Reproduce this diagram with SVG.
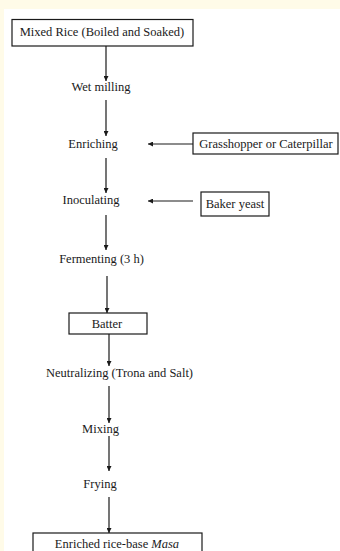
<svg xmlns="http://www.w3.org/2000/svg" width="340" height="551" viewBox="0 0 340 551">
<style>
text{font-family:"Liberation Serif","Times New Roman","DejaVu Serif",serif;font-size:12.5px;fill:#1a1a1a;text-anchor:middle}
.box{fill:#fff;stroke:#1a1a1a;stroke-width:1.2}
.c{stroke:#1a1a1a;stroke-width:1.2;fill:none}
</style>
<defs>
<marker id="ah" viewBox="0 0 10 10" refX="10" refY="5" markerWidth="5" markerHeight="5" markerUnits="userSpaceOnUse" orient="auto">
<path d="M0,0 L10,5 L0,10 z" fill="#1a1a1a"/>
</marker>
</defs>
<rect x="0" y="0" width="340" height="551" fill="#fff"/>
<rect x="0" y="0" width="340" height="9" fill="#fffbe8"/>
<rect x="0" y="0" width="4" height="551" fill="#fffbe8"/>
<g id="connectors">
<line class="c" x1="106" y1="46" x2="106" y2="81" marker-end="url(#ah)"/>
<line class="c" x1="106" y1="100" x2="106" y2="136" marker-end="url(#ah)"/>
<line class="c" x1="106" y1="158" x2="106" y2="193" marker-end="url(#ah)"/>
<line class="c" x1="106" y1="215" x2="106" y2="250" marker-end="url(#ah)"/>
<line class="c" x1="107" y1="276" x2="107" y2="313" marker-end="url(#ah)"/>
<line class="c" x1="109" y1="334" x2="109" y2="366" marker-end="url(#ah)"/>
<line class="c" x1="109" y1="386" x2="109" y2="423" marker-end="url(#ah)"/>
<line class="c" x1="109" y1="436" x2="109" y2="471" marker-end="url(#ah)"/>
<line class="c" x1="109" y1="497" x2="109" y2="533" marker-end="url(#ah)"/>
<line class="c" x1="193" y1="144" x2="148" y2="144" marker-end="url(#ah)"/>
<line class="c" x1="193" y1="201" x2="148" y2="201" marker-end="url(#ah)"/>
</g>
<g id="mixed-rice"><rect class="box" x="12" y="19.5" width="181" height="26.5"/><text x="102" y="36">Mixed Rice (Boiled and Soaked)</text></g>
<g id="wet-milling"><text x="101" y="90.5">Wet milling</text></g>
<g id="enriching"><text x="93" y="147.5">Enriching</text></g>
<g id="grasshopper"><rect class="box" x="193" y="133" width="145" height="21"/><text x="266" y="148">Grasshopper or Caterpillar</text></g>
<g id="inoculating"><text x="91" y="204">Inoculating</text></g>
<g id="baker-yeast"><rect class="box" x="201" y="192" width="68" height="24"/><text x="235" y="207.5">Baker yeast</text></g>
<g id="fermenting"><text x="101.5" y="263">Fermenting (3 h)</text></g>
<g id="batter"><rect class="box" x="69" y="313" width="78" height="21"/><text x="107" y="327.5">Batter</text></g>
<g id="neutralizing"><text x="119.5" y="377">Neutralizing (Trona and Salt)</text></g>
<g id="mixing"><text x="100.5" y="433">Mixing</text></g>
<g id="frying"><text x="100" y="487.5">Frying</text></g>
<g id="enriched-masa"><rect class="box" x="33" y="533" width="169" height="30"/><text x="117" y="547.5">Enriched rice-base <tspan font-style="italic">Masa</tspan></text></g>
</svg>
